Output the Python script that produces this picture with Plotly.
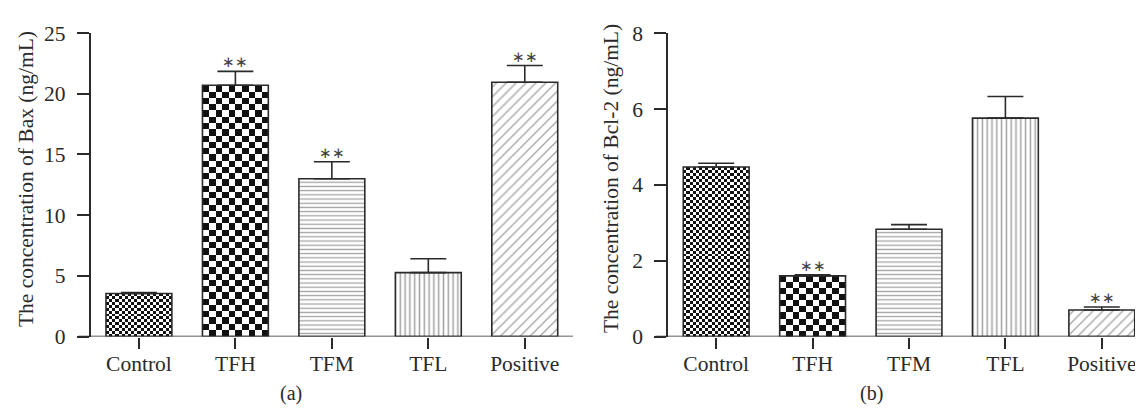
import plotly.graph_objects as go

# ---------------- data ----------------
categories = ["Control", "TFH", "TFM", "TFL", "Positive"]
bax_values = [3.55, 20.7, 13.0, 5.27, 20.95]
bax_errors = [0.08, 1.15, 1.4, 1.14, 1.38]
bax_signif = ["", "**", "**", "", "**"]
bcl2_values = [4.47, 1.60, 2.83, 5.76, 0.70]
bcl2_errors = [0.10, 0.03, 0.12, 0.57, 0.08]
bcl2_signif = ["", "**", "", "", "**"]
bax_ticks = [0, 5, 10, 15, 20, 25]
bcl2_ticks = [0, 2, 4, 6, 8]

# ---------------- style ----------------
W, H = 1143, 412
FONT = "Liberation Serif"
INK = "#2a2a2a"
BAR_W = 0.683
checker_cols = [21, 10, None, None, None]      # checkerboard density per category
pattern_shapes = ["", "", "-", "|", "/"]
pattern_sizes = [4, 4, 4.2, 4.8, 7]
pattern_solid = [0.3, 0.3, 0.3, 0.32, 0.18]
pattern_fg = ["#333", "#333", "#444", "#222", "#222"]
fills = ["rgba(0,0,0,0)", "rgba(0,0,0,0)", "white", "white", "white"]

ydom = [(H - 337.2) / H, (H - 15) / H]
panels = [
    dict(vals=bax_values, errs=bax_errors, sig=bax_signif, ticks=bax_ticks,
         xdom=[82.7 / W, 565 / W], xa="x", ya="y",
         title="The concentration of Bax (ng/mL)", label="(a)",
         title_x=18, label_x=283),
    dict(vals=bcl2_values, errs=bcl2_errors, sig=bcl2_signif, ticks=bcl2_ticks,
         xdom=[660 / W, 1142 / W], xa="x2", ya="y2",
         title="The concentration of Bcl-2 (ng/mL)", label="(b)",
         title_x=603, label_x=863),
]

fig = go.Figure()
xpos = list(range(len(categories)))
annotations = []
shapes = []

for k, p in enumerate(panels):
    ymax = p["ticks"][-1]
    plot_h = (ydom[1] - ydom[0]) * H
    px_per_unit = plot_h / ymax
    plot_w = (p["xdom"][1] - p["xdom"][0]) * W
    px_per_cat = plot_w / len(categories)

    # checkerboard fills (heatmaps clipped to bar rectangles)
    for i, v in enumerate(p["vals"]):
        nc = checker_cols[i]
        if not nc:
            continue
        cell_px = BAR_W * px_per_cat / nc
        nr = max(1, round(v * px_per_unit / cell_px))
        z = [[(r + c) % 2 for c in range(nc)] for r in range(nr)]
        dx = BAR_W / nc
        dy = v / nr
        fig.add_trace(go.Heatmap(
            z=z, x0=xpos[i] - BAR_W / 2 + dx / 2, dx=dx, y0=dy / 2, dy=dy,
            colorscale=[[0, "white"], [1, "#111"]], zmin=0, zmax=1,
            showscale=False, hoverinfo="skip", xaxis=p["xa"], yaxis=p["ya"]))

    fig.add_trace(go.Bar(
        x=xpos, y=p["vals"], width=BAR_W, xaxis=p["xa"], yaxis=p["ya"],
        marker=dict(color=fills, line=dict(color=INK, width=1.6),
                    pattern=dict(shape=pattern_shapes, size=pattern_sizes,
                                 solidity=pattern_solid, fgcolor=pattern_fg,
                                 bgcolor="white", fillmode="overlay")),
        error_y=dict(type="data", array=p["errs"], arrayminus=[0] * 5,
                     symmetric=False, color=INK, thickness=1.6, width=18),
        showlegend=False))

    for i, (v, e, s) in enumerate(zip(p["vals"], p["errs"], p["sig"])):
        if s:
            annotations.append(dict(
                x=xpos[i], y=v + e, xref=p["xa"], yref=p["ya"], text="∗∗",
                showarrow=False, yanchor="bottom", yshift=-1,
                font=dict(family=FONT, size=15, color="#444")))

    # x-axis baseline extends a little left of the y axis
    shapes.append(dict(type="line", xref=p["xa"] + " domain", yref=p["ya"],
                       x0=-12.5 / plot_w, x1=1, y0=0, y1=0,
                       line=dict(color=INK, width=1.6)))

    # panel label
    annotations.append(dict(
        x=p["label_x"] / W, y=(H - 398) / H, xanchor="center", yanchor="middle",
        xref="paper", yref="paper", text=p["label"], showarrow=False,
        font=dict(family=FONT, size=20, color=INK)))
    # y-axis title
    annotations.append(dict(
        x=p["title_x"] / W, y=(H - 170) / H, xanchor="center", yanchor="middle",
        xref="paper", yref="paper", text=p["title"], showarrow=False,
        textangle=-90, font=dict(family=FONT, size=21.5, color=INK)))

    xname = "xaxis" if k == 0 else "xaxis2"
    yname = "yaxis" if k == 0 else "yaxis2"
    fig.update_layout(**{
        xname: dict(domain=p["xdom"], range=[-0.5, 4.5], anchor=p["ya"],
                    tickvals=xpos, ticktext=categories, ticks="outside",
                    ticklen=11, tickwidth=1.6, tickcolor=INK, showline=False,
                    showgrid=False, zeroline=False, fixedrange=True,
                    ticklabelstandoff=-3,
                    tickfont=dict(family=FONT, size=21.5, color=INK)),
        yname: dict(domain=ydom, range=[0, ymax], anchor=p["xa"],
                    tickvals=p["ticks"], ticks="outside", ticklen=12,
                    tickwidth=1.6, tickcolor=INK, showline=True, linecolor=INK,
                    linewidth=1.6, showgrid=False, zeroline=False,
                    ticklabelstandoff=7,
                    tickfont=dict(family=FONT, size=21.5, color=INK)),
    })

fig.update_layout(
    width=W, height=H, margin=dict(l=0, r=0, t=0, b=0),
    paper_bgcolor="white", plot_bgcolor="white", bargap=0.3,
    annotations=annotations, shapes=shapes, showlegend=False)

fig.write_html("out.html")
